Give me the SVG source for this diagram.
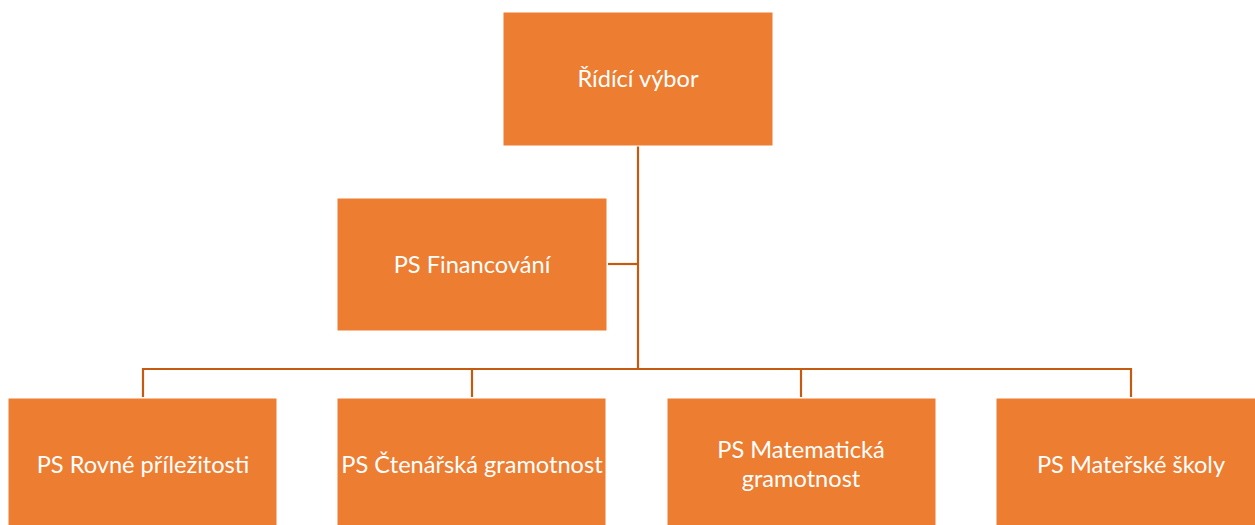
<svg xmlns="http://www.w3.org/2000/svg" width="1255" height="525" viewBox="0 0 1255 525">
<style>
.box{fill:#ED7D31;stroke:#FFFFFF;stroke-width:1}
.lbl{font-family:Lato,"Open Sans","Liberation Sans",sans-serif;font-size:23.6px;fill:#FFFFFF;text-anchor:middle;dominant-baseline:central}
.conn{fill:none;stroke:#C55A11;stroke-width:2.2}
</style>
<rect width="1255" height="525" fill="#FFFFFF"/>
<g id="connectors">
<path class="conn" d="M638,146 V369"/>
<path class="conn" d="M608,264 H638"/>
<path class="conn" d="M143,397 V369 H1131 V397"/>
<path class="conn" d="M472,369 V397"/>
<path class="conn" d="M801,369 V397"/>
</g>
<g id="ridici-vybor">
<rect class="box" x="503" y="12" width="270" height="134"/>
<text class="lbl" x="638" y="78">Řídící výbor</text>
</g>
<g id="ps-financovani">
<rect class="box" x="337" y="198" width="270" height="133"/>
<text class="lbl" x="472" y="264">PS Financování</text>
</g>
<g id="ps-rovne">
<rect class="box" x="8" y="398" width="269" height="134"/>
<text class="lbl" x="143" y="464">PS Rovné příležitosti</text>
</g>
<g id="ps-ctenarska">
<rect class="box" x="337" y="398" width="269" height="134"/>
<text class="lbl" x="472" y="464">PS Čtenářská gramotnost</text>
</g>
<g id="ps-matematicka">
<rect class="box" x="667" y="398" width="269" height="134"/>
<text class="lbl" x="801" y="449">PS Matematická</text>
<text class="lbl" x="801" y="478">gramotnost</text>
</g>
<g id="ps-materske">
<rect class="box" x="996" y="398" width="269" height="134"/>
<text class="lbl" x="1131" y="464">PS Mateřské školy</text>
</g>
</svg>
